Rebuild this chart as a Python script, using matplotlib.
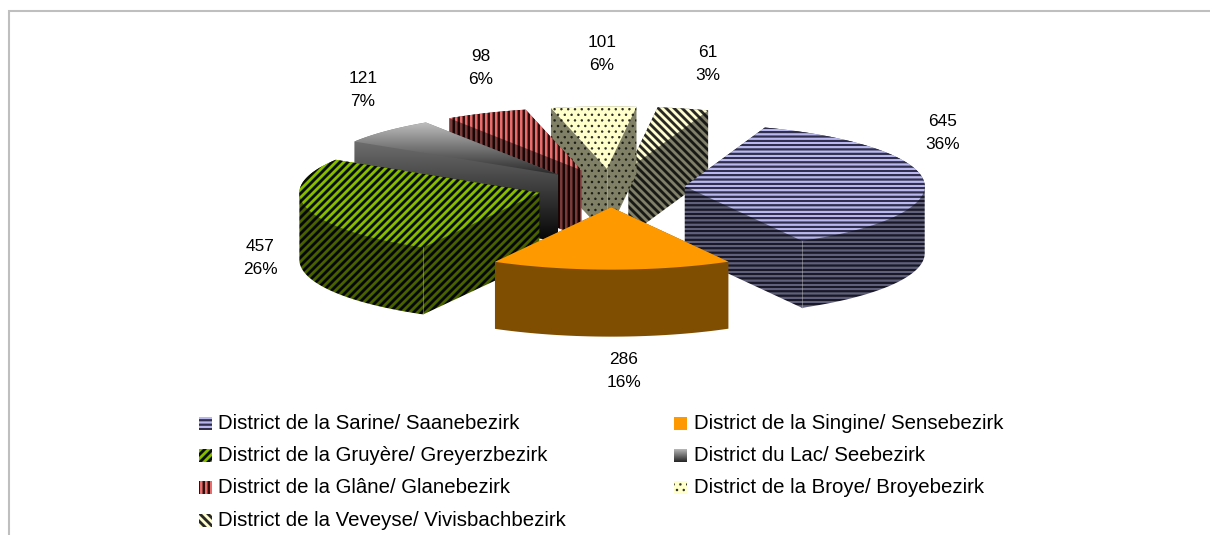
import numpy as np
import matplotlib
matplotlib.use("Agg")
import matplotlib.pyplot as plt
from matplotlib.patches import Polygon

districts = ["District de la Sarine/ Saanebezirk", "District de la Singine/ Sensebezirk",
             "District de la Gruyère/ Greyerzbezirk", "District du Lac/ Seebezirk",
             "District de la Glâne/ Glanebezirk", "District de la Broye/ Broyebezirk",
             "District de la Veveyse/ Vivisbachbezirk"]
counts = [645, 286, 457, 121, 98, 101, 61]
percents = [36, 16, 26, 7, 6, 6, 3]

W, H = 1210, 535
plt.rcParams['font.family'] = ['Liberation Sans', 'DejaVu Sans']

# pie geometry, in pixels
cx, cy = 611, 188
rx, ry = 240, 62.4
depth = 67
explode = 74
start = 19.5

label_pos = [(943, 133), (624, 371), (260, 258), (363, 90), (481, 68), (602, 54), (708, 64)]
legend_pos = [(199, 423), (674, 423), (199, 455), (674, 455), (199, 487), (674, 487), (199, 520)]
draw_order = [6, 5, 4, 3, 2, 0, 1]

X, Y = np.meshgrid(np.arange(W) + .5, np.arange(H) + .5)


def mix(w, dark, light):
    w = np.clip(w, 0, 1)[..., None]
    return np.array(dark) / 255 * (1 - w) + np.array(light) / 255 * w


def stripes(u, period, dark, light):
    return mix(.5 + 1.1 * np.sin(2 * np.pi * u / period), dark, light)


def dots(dark, light):
    px, py = 6.8, 5.6
    d1 = np.hypot((X + 3) % px - px / 2, (Y % (2 * py)) - py / 2)
    d2 = np.hypot((X + 3 + px / 2) % px - px / 2, ((Y + py) % (2 * py)) - py / 2)
    d = np.minimum(d1, d2)
    return mix((d - .7) / 1.0, dark, light)


def gradient(y0, y1, top, bottom):
    return mix((Y - y0) / (y1 - y0), top, bottom)


def solid(color):
    return np.ones((H, W, 3)) * np.array(color) / 255


def top_texture(i, box):
    if i == 0:
        return stripes(Y, 4.3, (48, 48, 78), (184, 184, 238))
    if i == 1:
        return solid((255, 153, 0))
    if i == 2:
        return stripes(X + Y, 8, (8, 16, 0), (136, 186, 0))
    if i == 3:
        return gradient(box[0], box[1], (190, 190, 190), (40, 40, 40))
    if i == 4:
        return stripes(X, 5.0, (50, 16, 16), (236, 108, 108))
    if i == 5:
        return dots((50, 50, 40), (255, 255, 204))
    return stripes(X - Y, 8, (40, 40, 40), (255, 255, 204))


def side_texture(i, box):
    if i == 0:
        return stripes(Y, 4.3, (24, 24, 38), (96, 96, 124))
    if i == 1:
        return solid((128, 78, 0))
    if i == 2:
        return stripes(X + Y, 8, (4, 8, 0), (72, 96, 0))
    if i == 3:
        return gradient(box[0], box[1], (130, 130, 130), (4, 4, 4))
    if i == 4:
        return stripes(X, 5.0, (24, 6, 6), (122, 58, 58))
    if i == 5:
        return dots((30, 30, 24), (128, 128, 102))
    return stripes(X - Y, 8, (24, 24, 24), (128, 128, 102))


def hull(pts):
    pts = sorted(set(map(tuple, pts)))
    def half(seq):
        out = []
        for p in seq:
            while len(out) > 1 and ((out[-1][0] - out[-2][0]) * (p[1] - out[-2][1])
                                    - (out[-1][1] - out[-2][1]) * (p[0] - out[-2][0])) <= 0:
                out.pop()
            out.append(p)
        return out[:-1]
    return np.array(half(pts) + half(pts[::-1]))


def textured(ax, image, clip, z):
    im = ax.imshow(image, extent=(0, W, H, 0), interpolation='nearest', aspect='auto', zorder=z)
    im.set_clip_path(Polygon(clip, closed=True, transform=ax.transData))


fig = plt.figure(figsize=(W / 100, H / 100), dpi=100)
ax = fig.add_axes([0, 0, 1, 1])

angles = np.cumsum([0] + counts) / sum(counts) * 360 + start
z = 2
for i in draw_order:
    a0, a1 = np.radians(angles[i]), np.radians(angles[i + 1])
    mid = (a0 + a1) / 2
    ax0 = cx + explode * np.sin(mid)
    ay0 = cy - explode * ry / rx * np.cos(mid)
    t = np.linspace(a0, a1, 60)
    rim = np.column_stack([ax0 + rx * np.sin(t), ay0 - ry * np.cos(t)])
    face = np.vstack([[ax0, ay0], rim])
    sil = hull(np.vstack([face, face + [0, depth]]))

    box = (sil[:, 1].min(), sil[:, 1].max())
    textured(ax, side_texture(i, box), sil, z)
    # faint corner lines, only where the corner faces the viewer
    corners = [p for p, a in ((face[1], a0), (face[-1], a1)) if np.cos(a) < 0 and i != 1]
    if abs(np.sin(mid)) < .3 and np.cos(mid) > 0:
        corners.append(face[0])
    for p in corners:
        ax.plot([p[0], p[0]], [p[1], p[1] + depth], color='#c8c8c8', lw=.6, alpha=.5, zorder=z + .5)
    box = (face[:, 1].min(), face[:, 1].max())
    textured(ax, top_texture(i, box), face, z + 1)
    z += 2

for i, (x, y) in enumerate(label_pos):
    ax.text(x, y, f"{counts[i]}\n{percents[i]}%", ha='center', va='center', fontsize=12.4,
            linespacing=1.6, color='black', zorder=30)

size = 13
for i, (x, y) in enumerate(legend_pos):
    sq = np.array([[x, y - size / 2], [x + size, y - size / 2], [x + size, y + size / 2], [x, y + size / 2]])
    textured(ax, top_texture(i, (y - size / 2, y + size / 2)), sq, 30)
    ax.text(x + 19.5, y + 6, districts[i], ha='left', va='baseline', fontsize=14.65, color='black', zorder=31)

ax.plot([9, 9, W], [H, 11, 11], color='#bfbfbf', lw=1.5, solid_joinstyle='miter', zorder=1)

ax.set_xlim(0, W)
ax.set_ylim(H, 0)
ax.axis('off')
fig.savefig("out.png", dpi=100, facecolor='white')
